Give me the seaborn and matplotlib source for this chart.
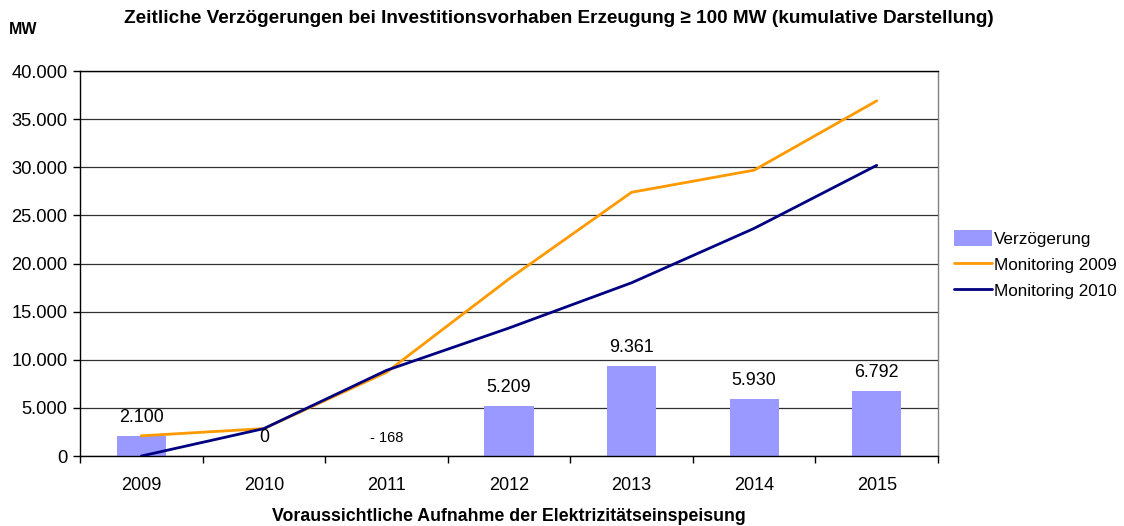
import numpy as np
import pandas as pd
import matplotlib
matplotlib.use("Agg")
import matplotlib.pyplot as plt
import seaborn as sns
from matplotlib.ticker import FuncFormatter, FixedLocator
from matplotlib.patches import Patch
from matplotlib.lines import Line2D

years = ["2009", "2010", "2011", "2012", "2013", "2014", "2015"]
verzoegerung = [2100, 0, -168, 5209, 9361, 5930, 6792]
verz_labels = ["2.100", "0", "- 168", "5.209", "9.361", "5.930", "6.792"]
monitoring_2009 = [2100, 2850, 8700, 18400, 27400, 29700, 36900]
monitoring_2010 = [0, 2850, 8900, 13300, 18000, 23650, 30200]

sns.set_theme(style="white")
plt.rcParams["font.family"] = ["Liberation Sans", "DejaVu Sans"]
plt.rcParams["text.color"] = "#000000"
plt.rcParams["axes.labelcolor"] = "#000000"

fig = plt.figure(figsize=(11.24, 5.26), dpi=100)
ax = fig.add_axes([0.0712, 0.133, 0.7633, 0.732])

df = pd.DataFrame({"Jahr": years, "Verzögerung": verzoegerung})
sns.barplot(data=df, x="Jahr", y="Verzögerung", color="#9999FF", saturation=1,
            width=0.4, ax=ax, zorder=2, linewidth=0, edgecolor="none")

xpos = np.arange(len(years))
sns.lineplot(x=xpos, y=monitoring_2009, color="#FF9900", linewidth=2, ax=ax,
             zorder=3)
sns.lineplot(x=xpos, y=monitoring_2010, color="#000080", linewidth=2, ax=ax,
             zorder=4)

ax.set_xlim(-0.5, len(years) - 0.5)
ax.set_ylim(0, 40000)
ax.set_yticks(np.arange(0, 40001, 5000))
ax.yaxis.set_major_formatter(FuncFormatter(lambda v, p: f"{int(v):,}".replace(",", ".")))
ax.grid(axis="y", color="#303030", linewidth=0.9, zorder=0)
ax.set_axisbelow(True)

for s in ["left", "bottom", "top"]:
    ax.spines[s].set_visible(True)
    ax.spines[s].set_color("#000000")
    ax.spines[s].set_linewidth(1.0)
ax.spines["right"].set_visible(True)
ax.spines["right"].set_color("#808080")
ax.spines["right"].set_linewidth(1.0)

ax.xaxis.set_minor_locator(FixedLocator(np.arange(-0.5, len(years), 1.0)))
ax.tick_params(axis="x", which="major", length=0, labelsize=13, pad=15,
               colors="#000000")
ax.tick_params(axis="x", which="minor", length=5, width=1, direction="out",
               color="#000000", bottom=True)
ax.tick_params(axis="y", which="major", length=5, width=1, direction="out",
               left=True, labelsize=13.2, colors="#000000", pad=4)

ax.set_xlabel("Voraussichtliche Aufnahme der Elektrizitätseinspeisung",
              fontsize=12.8, fontweight="bold", labelpad=10, color="#000000")
ax.set_ylabel("")

for i, (v, lab) in enumerate(zip(verzoegerung, verz_labels)):
    fs = 10.5 if v < 0 else 12.9
    ax.annotate(lab, xy=(i, max(v, 0)), xytext=(0, 13), textcoords="offset points",
                ha="center", va="center", fontsize=fs, color="#000000", zorder=5)

fig.text(0.497, 0.965, "Zeitliche Verzögerungen bei Investitionsvorhaben Erzeugung ≥ 100 MW (kumulative Darstellung)",
         ha="center", va="center", fontsize=13.7, fontweight="bold", color="#000000")
fig.text(0.021, 0.944, "MW", ha="center", va="center", fontsize=11.5,
         fontweight="bold", color="#000000")

handles = [Patch(facecolor="#9999FF", edgecolor="none", label="Verzögerung"),
           Line2D([0], [0], color="#FF9900", lw=2, label="Monitoring 2009"),
           Line2D([0], [0], color="#000080", lw=2, label="Monitoring 2010")]
leg = fig.legend(handles=handles, loc="center left", bbox_to_anchor=(0.849, 0.497),
                 frameon=False, fontsize=12.3, handlelength=2.2, handleheight=1.0,
                 handletextpad=0.15, labelspacing=0.55, borderpad=0, borderaxespad=0)
for t in leg.get_texts():
    t.set_color("#000000")

fig.savefig("out.png", dpi=100)
